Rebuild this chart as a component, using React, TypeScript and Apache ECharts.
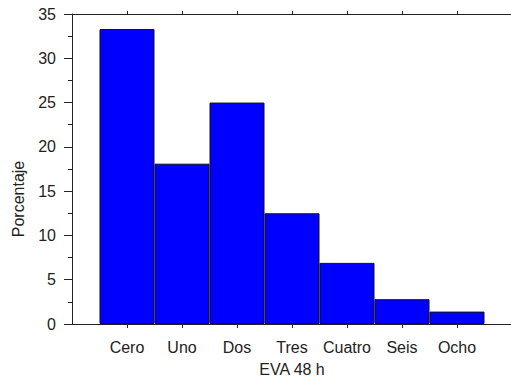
import React, { useEffect, useRef } from "react";
import * as echarts from "echarts";

const categories = ["Cero", "Uno", "Dos", "Tres", "Cuatro", "Seis", "Ocho"];
const values = [33.3, 18.1, 25.0, 12.5, 6.9, 2.8, 1.4];
const yTicks = [0, 5, 10, 15, 20, 25, 30, 35];
const xTitle = "EVA 48 h";
const yTitle = "Porcentaje";

const FONT = "'Liberation Sans', Arial, sans-serif";
const TEXT = "#222";
const LINE = "#222";

export default function App() {
  const ref = useRef<HTMLDivElement>(null);
  useEffect(() => {
    if (!ref.current) return;
    const chart = echarts.init(ref.current, null, { renderer: "svg" });
    // one empty slot on each side so the axes run past the outer bars
    const slots = ["", ...categories, ""];
    const padded = [null, ...values, null];
    const last = slots.length - 1;
    const inner = (i: number) => i > 0 && i < last;
    chart.setOption({
      animation: false,
      backgroundColor: "#fff",
      textStyle: { fontFamily: FONT },
      grid: { left: 72, top: 14, width: 440, height: 310, outerBoundsMode: "none", containLabel: false },
      xAxis: [
        {
          type: "category",
          data: slots,
          boundaryGap: false,
          position: "bottom",
          name: xTitle,
          nameLocation: "middle",
          nameGap: 37,
          nameTextStyle: { fontSize: 16, color: TEXT, fontFamily: FONT },
          axisLine: { show: true, lineStyle: { color: LINE, width: 1 } },
          axisTick: { show: true, length: 4, interval: inner, lineStyle: { color: LINE } },
          axisLabel: {
            interval: 0,
            fontSize: 16,
            color: TEXT,
            margin: 15,
            fontFamily: FONT,
          },
          splitLine: { show: false },
        },
        {
          type: "category",
          data: slots,
          boundaryGap: false,
          position: "top",
          axisLine: { show: true, lineStyle: { color: LINE, width: 1 } },
          axisTick: { show: true, length: 3, interval: inner, lineStyle: { color: LINE } },
          axisLabel: { show: false },
          splitLine: { show: false },
        },
      ],
      yAxis: {
        type: "value",
        min: 0,
        max: 35,
        interval: 5,
        axisLine: { show: true, lineStyle: { color: LINE, width: 1 } },
        axisTick: { show: true, length: 8, lineStyle: { color: LINE } },
        minorTick: { show: true, splitNumber: 2, length: 4, lineStyle: { color: LINE } },
        axisLabel: {
          fontSize: 16,
          color: TEXT,
          margin: 16,
          fontFamily: FONT,
          formatter: (v: number) => (yTicks.includes(v) ? String(v) : ""),
        },
        splitLine: { show: false },
      },
      graphic: [
        {
          type: "text",
          x: 18,
          y: 199,
          rotation: Math.PI / 2,
          style: {
            text: yTitle,
            fontSize: 16,
            fill: TEXT,
            fontFamily: FONT,
            align: "center",
            verticalAlign: "middle",
          },
        },
      ],
      series: [
        {
          type: "bar",
          xAxisIndex: 0,
          barWidth: 55,
          data: padded,
          itemStyle: { color: "#0000ff", borderColor: "#111", borderWidth: 1 },
        },
      ],
    });
    return () => chart.dispose();
  }, []);
  return <div ref={ref} style={{ width: 511, height: 380, position: "absolute", left: 0, top: 0 }} />;
}
